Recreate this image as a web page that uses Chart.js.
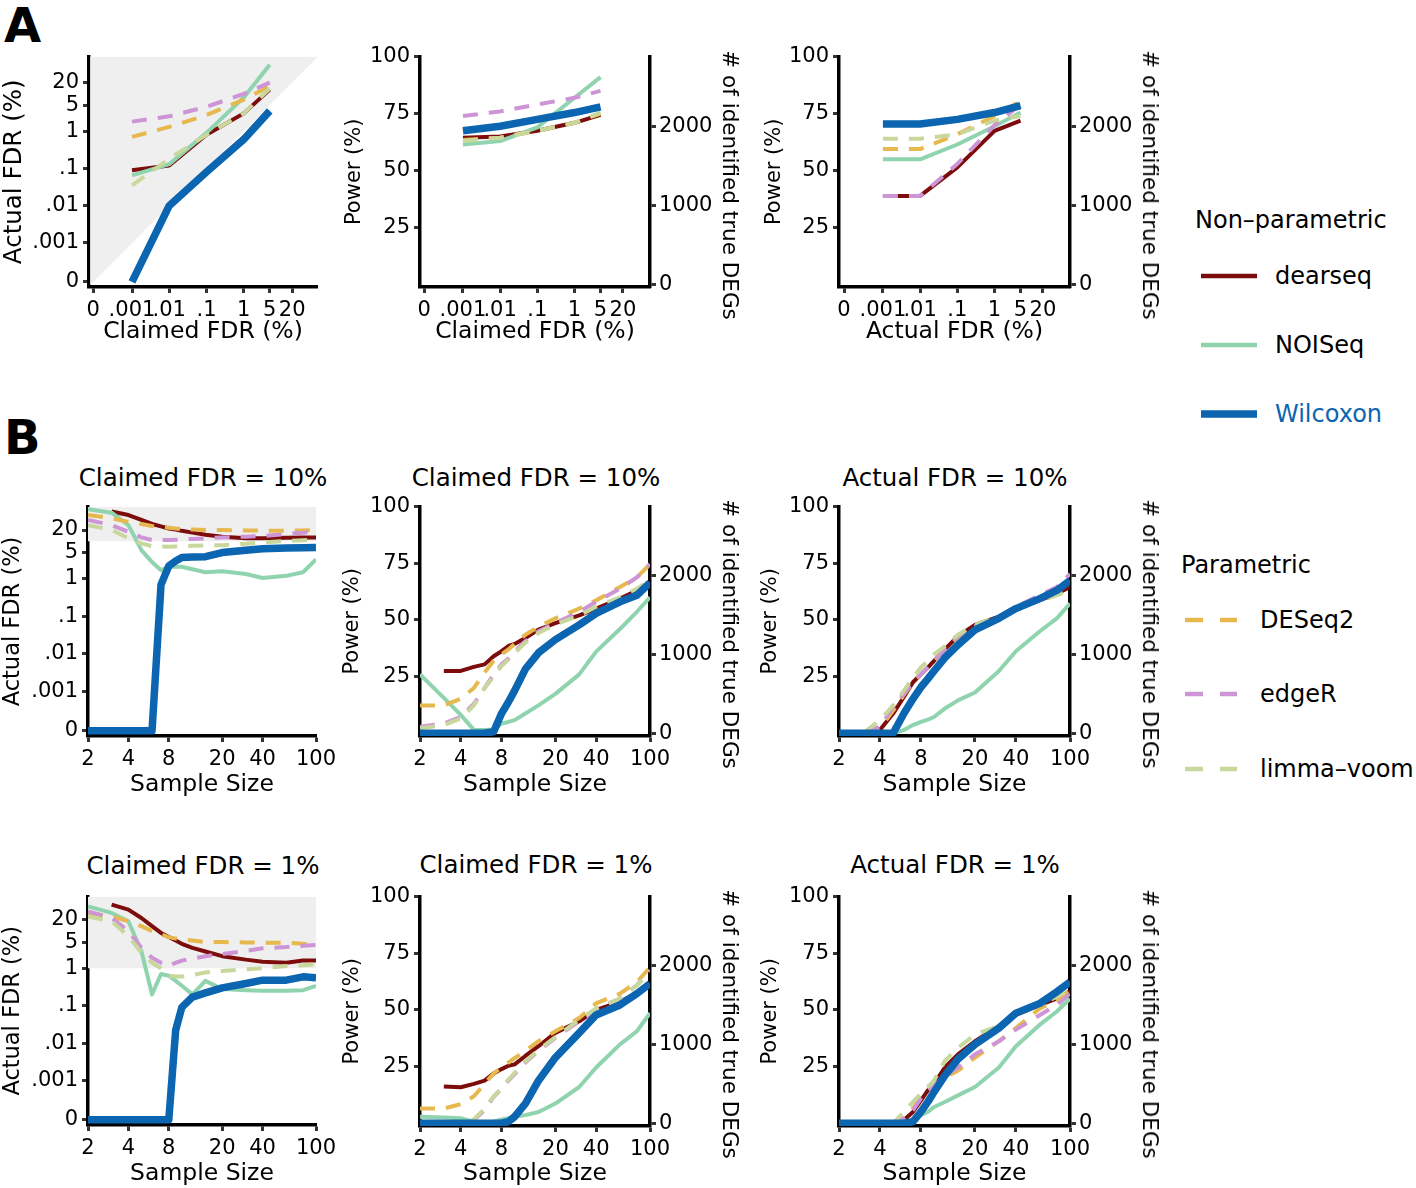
<!DOCTYPE html>
<html>
<head>
<meta charset="utf-8">
<script src="https://cdn.jsdelivr.net/npm/chart.js@4.4.1/dist/chart.umd.min.js"></script>
<style>
  body { margin:0; background:#fff; width:1416px; height:1188px; position:relative; overflow:hidden; font-family:'DejaVu Sans', sans-serif; }
  canvas { position:absolute; }
  .txt { position:absolute; white-space:nowrap; color:#000; line-height:30px; height:30px; }
  .ptitle { font-size:24.5px; text-align:center; width:400px; }
  .leg { font-size:24px; }
  .tag { position:absolute; font-weight:bold; font-size:48px; line-height:56px; }
  .rtitle { position:absolute; white-space:nowrap; font-size:21.5px; line-height:26px; transform:translate(-50%, -50%) rotate(90deg); }
  svg { position:absolute; left:0; top:0; }
</style>
</head>
<body>
<div class="tag" style="left:4px; top:-3px;">A</div>
<div class="tag" style="left:4px; top:409px;">B</div>

<div class="txt ptitle" style="left:3px; top:463px;">Claimed FDR = 10%</div>
<div class="txt ptitle" style="left:336px; top:463px;">Claimed FDR = 10%</div>
<div class="txt ptitle" style="left:755px; top:463px;">Actual FDR = 10%</div>
<div class="txt ptitle" style="left:3px; top:851px;">Claimed FDR = 1%</div>
<div class="txt ptitle" style="left:336px; top:850px;">Claimed FDR = 1%</div>
<div class="txt ptitle" style="left:755px; top:850px;">Actual FDR = 1%</div>

<div class="txt leg" style="left:1195px; top:205px;">Non–parametric</div>
<div class="txt leg" style="left:1275px; top:261px;">dearseq</div>
<div class="txt leg" style="left:1275px; top:330px;">NOISeq</div>
<div class="txt leg" style="left:1275px; top:399px; color:#0b65b0;">Wilcoxon</div>
<div class="txt leg" style="left:1181px; top:550px;">Parametric</div>
<div class="txt leg" style="left:1260px; top:605px;">DESeq2</div>
<div class="txt leg" style="left:1260px; top:679px;">edgeR</div>
<div class="txt leg" style="left:1260px; top:754px;">limma–voom</div>

<svg width="1416" height="1188">
  <line x1="1201" y1="276" x2="1257" y2="276" stroke="#7d0c0c" stroke-width="4.5"/>
  <line x1="1201" y1="345" x2="1257" y2="345" stroke="#8fd4ae" stroke-width="4.5"/>
  <line x1="1201" y1="414" x2="1257" y2="414" stroke="#0b65b0" stroke-width="7.5"/>
  <line x1="1185" y1="620" x2="1237" y2="620" stroke="#e6b84e" stroke-width="4.5" stroke-dasharray="18 17"/>
  <line x1="1185" y1="694" x2="1237" y2="694" stroke="#cd94d6" stroke-width="4.5" stroke-dasharray="18 17"/>
  <line x1="1185" y1="769" x2="1237" y2="769" stroke="#c8d89c" stroke-width="4.5" stroke-dasharray="18 17"/>
</svg>

<script>
const FONT = 'DejaVu Sans';
const ZERO = 9e-5; // where the "0" tick sits on the log FDR axes

const fdrLevels = [0.001, 0.01, 0.1, 1, 5];
const sampleSizes = [2, 3, 4, 5, 6, 7, 8, 9, 10, 12, 15, 20, 30, 40, 60, 80, 100];
const fdrTicks = [0, 0.001, 0.01, 0.1, 1, 5, 20];
const sizeTicks = [2, 4, 8, 20, 40, 100];
const powerTicks = [25, 50, 75, 100];
const degTicks = [0, 1000, 2000];
const totalDegs = 2875; // 100% power on the right axis

// draw order, top-most first
const methods = ['Wilcoxon', 'limma-voom', 'edgeR', 'DESeq2', 'NOISeq', 'dearseq'];

// A: actual FDR (%) at claimed FDR levels
const a1ActualFdr = {
  dearseq:  [0.09, 0.12, 0.8, 3, 13],
  NOISeq:   [0.065, 0.13, 0.9, 8, 60],
  Wilcoxon: [0, 0.01, 0.08, 0.6, 3.5],
  DESeq2:   [0.7, 1.3, 2.7, 7, 16],
  edgeR:    [1.8, 2.5, 4.5, 10, 20],
  'limma-voom': [0.035, 0.18, 0.8, 3, 14]
};
// A: power (%) at claimed FDR levels
const a2Power = {
  dearseq:  [64.5, 65, 67.5, 71, 74.5],
  NOISeq:   [61.5, 63, 69, 82, 91],
  Wilcoxon: [67.5, 69.5, 72.5, 75.5, 78],
  DESeq2:   [63.5, 64.5, 67.5, 71, 75],
  edgeR:    [74, 76, 79, 82, 85],
  'limma-voom': [63, 64.5, 67.5, 71, 75.5]
};
// A: power (%) at actual FDR levels
const a3Power = {
  dearseq:  [39, 39, 51.5, 67.5, 72],
  NOISeq:   [55, 55, 61.5, 69.5, 75.5],
  Wilcoxon: [70.5, 70.5, 72.5, 75.5, 78.5],
  DESeq2:   [59.5, 59.5, 66, 74, 80.5],
  edgeR:    [39, 39, 53, 70, 79],
  'limma-voom': [64, 64, 66, 72, 74]
};

// B: by sample size, claimed FDR = 10%
const b1ActualFdr = {
  dearseq:  [null, 62, 50, 37, 29, 25, 22, 20.5, 19, 17, 15, 13.3, 12, 12, 12.5, 12.7, 12.7],
  NOISeq:   [71, 58, 27, 5.8, 2.8, 1.7, 2.1, 2.1, 2.1, 1.8, 1.5, 1.6, 1.35, 1.05, 1.2, 1.5, 3.3],
  Wilcoxon: [0, 0, 0, 0, 0, 0.7, 2.2, 3.0, 3.7, 3.8, 3.9, 5.0, 5.8, 6.3, 6.6, 6.7, 6.8],
  DESeq2:   [50, 41, 33, 29, 25.5, 24, 23, 22, 21, 20.5, 20, 20, 19.5, 19.2, 19.2, 19.5, 20],
  edgeR:    [37, 27, 18, 12.7, 10.8, 10.8, 10.8, 11, 11.2, 11.6, 12, 12.7, 13.3, 13.8, 15.6, 17, 18],
  'limma-voom': [27, 20, 12, 8.8, 7.4, 7.3, 7.2, 7.3, 7.4, 7.6, 7.8, 7.9, 8.6, 9.3, 10.2, 10.7, 11.2]
};
const b2Power = {
  dearseq:  [null, 27.5, 27.5, 29.3, 30.4, 34, 36.2, 38.5, 39.4, 42, 45.7, 48.6, 52, 55, 59.4, 63, 66.7],
  NOISeq:   [26, 15.6, 8.1, 1.5, 1.4, 1.7, 4.3, 5, 5.8, 8.7, 12.3, 17.4, 26, 36, 46, 53.6, 60],
  Wilcoxon: [0, 0, 0, 0, 0, 0.7, 8.7, 13.8, 18.8, 28.3, 35.5, 41.3, 47.8, 52.9, 58, 60.9, 66.4],
  DESeq2:   [12.3, 12.3, 15.2, 20, 26.8, 32, 34.8, 37, 39.4, 43.5, 47, 50.7, 55, 58.7, 64.5, 68.8, 74.6],
  edgeR:    [2.9, 4.3, 7.2, 13, 20, 26, 30.4, 33, 36, 40.6, 45, 48.6, 53.6, 58, 63.8, 68.8, 74.6],
  'limma-voom': [2.2, 3.6, 6.5, 12.3, 20, 25, 29.7, 32.5, 35.5, 39.9, 44.2, 48, 52, 55.8, 60, 63.8, 67.4]
};
// B: by sample size, actual FDR = 10%
const b3Power = {
  dearseq:  [0, 0, 1.4, 8.7, 16, 22.5, 26, 29, 31.9, 37, 42.8, 47.8, 51.4, 55, 58.7, 61.6, 64.5],
  NOISeq:   [0, 0, 0, 0, 1.4, 3.6, 5, 6, 7.2, 10.9, 14.5, 18, 27.5, 36.2, 45, 50.7, 57.2],
  Wilcoxon: [0, 0, 0, 0, 8.7, 15.2, 20.3, 24, 27.5, 33.3, 39, 45.6, 50.7, 55, 59.4, 63, 67.4],
  DESeq2:   [0, 0, 2.2, 10, 17, 22.5, 26, 29, 32, 37, 42.5, 47, 51, 55, 58.5, 61, 63],
  edgeR:    [0, 0, 2.9, 11.6, 17.4, 22.5, 26, 29, 32, 37, 43, 47.5, 51.5, 55.8, 60.9, 64.5, 70.3],
  'limma-voom': [0, 0, 5.8, 12.3, 18.8, 24.6, 29, 32, 34.8, 38.4, 43.5, 47.8, 51.5, 55, 58.5, 61, 63]
};
// B: by sample size, claimed FDR = 1%
const b4ActualFdr = {
  dearseq:  [null, 50, 36.9, 22, 13.3, 8.8, 6.8, 5.5, 4.5, 3.5, 2.8, 2.1, 1.7, 1.5, 1.4, 1.6, 1.6],
  NOISeq:   [45, 30, 18, 2.9, 0.2, 0.7, 0.63, 0.46, 0.34, 0.2, 0.46, 0.28, 0.26, 0.25, 0.25, 0.26, 0.34],
  Wilcoxon: [0, 0, 0, 0, 0, 0, 0, 0.022, 0.09, 0.17, 0.22, 0.3, 0.39, 0.48, 0.48, 0.59, 0.56],
  DESeq2:   [30, 24, 18, 13.3, 9.8, 8, 6.8, 6.2, 5.9, 5.5, 5, 5, 4.9, 4.8, 4.8, 4.5, 4.4],
  edgeR:    [33, 22, 9.8, 3.5, 1.9, 1.4, 1.15, 1.4, 1.6, 1.8, 2.1, 2.4, 2.9, 3.4, 3.7, 4, 4.2],
  'limma-voom': [24, 18, 7.2, 2.6, 1.4, 1.0, 0.63, 0.6, 0.6, 0.66, 0.77, 0.85, 0.93, 1.0, 1.15, 1.2, 1.28]
};
const b5Power = {
  dearseq:  [null, 16.2, 15.9, 17.4, 18.8, 22, 23.9, 25.4, 26, 29.7, 34, 39.9, 45, 50, 53.6, 57.5, 62],
  NOISeq:   [2.9, 2.6, 2.2, 0.7, 0.4, 0.7, 1.7, 2.2, 2.9, 3.6, 5, 8.7, 16, 24.6, 34.8, 40.6, 48.6],
  Wilcoxon: [0, 0, 0, 0, 0, 0, 0, 0.7, 2.9, 8.7, 18.8, 29, 39.9, 47.8, 52.2, 57.2, 61.6],
  DESeq2:   [6.5, 6.5, 8.4, 11.9, 17.4, 22, 24.6, 26.8, 28.7, 31.9, 36.2, 40.6, 46.4, 52.9, 57.2, 62.3, 68.8],
  edgeR:    [0, 0, 0.5, 1.4, 5.8, 11.6, 15.2, 18.8, 21.7, 26.8, 31.9, 37.7, 45, 50, 55, 60.9, 67.4],
  'limma-voom': [0, 0, 0.5, 1.7, 6.5, 11.9, 15.5, 19.3, 22.2, 27.2, 32.3, 38, 45.7, 50.7, 55, 60.9, 66.7]
};
// B: by sample size, actual FDR = 1%
const b6Power = {
  dearseq:  [0, 0, 0, 0, 1.4, 5, 10, 14.5, 17.4, 24.6, 30.4, 36.2, 42.8, 47.8, 52.2, 55, 58.3],
  NOISeq:   [0, 0, 0, 0, 0, 0.7, 3.6, 5, 7.2, 9.4, 12.3, 16, 24.6, 34, 43.5, 49.3, 55],
  Wilcoxon: [0, 0, 0, 0, 0, 0.7, 5, 9.4, 13.8, 21, 28.3, 34.8, 42, 48.6, 52.9, 58, 62.3],
  DESeq2:   [0, 0, 0, 0, 2.2, 6.5, 11.6, 14.5, 16.7, 20.3, 23.2, 29, 36.2, 42, 50.7, 54.3, 58.7],
  edgeR:    [0, 0, 0, 0, 2.2, 5.8, 10.9, 14.5, 16.7, 21, 24.6, 30.4, 36.2, 41.3, 47.8, 52.2, 57.2],
  'limma-voom': [0, 0, 0, 0, 5, 9.4, 13, 16, 18.8, 27.5, 33.3, 39.1, 43, 47.8, 52.2, 55.8, 59.4]
};

const styles = {
  dearseq:  { color:'#7d0c0c', width:4, dash:[] },
  NOISeq:   { color:'#8fd4ae', width:4, dash:[] },
  Wilcoxon: { color:'#0b65b0', width:7.5, dash:[] },
  DESeq2:   { color:'#e6b84e', width:4, dash:[15, 11] },
  edgeR:    { color:'#cd94d6', width:4, dash:[15, 11] },
  'limma-voom': { color:'#c8d89c', width:4, dash:[15, 11] }
};
const SHADE = '#efefef';

// box: canvas [x, y, w, h]; area: plot frame [left, top, right, bottom], page pixels
const panels = [
  { box:[0, 40, 345, 306], area:[89, 56, 317, 287], x:'fdr', y:'fdr', xRange:[7.5e-5, 93], yRange:[6.6e-5, 100],
    xTitle:'Claimed FDR (%)', yTitle:'Actual FDR (%)', yTitleSize:24.5, series:a1ActualFdr, diagonal:true },
  { box:[342, 40, 401, 306], area:[420, 55, 650, 287], x:'fdr', y:'power', xRange:[7.0e-5, 107], yRange:[-0.9, 100],
    xTitle:'Claimed FDR (%)', yTitle:'Power (%)', yTitleSize:21, series:a2Power },
  { box:[762, 40, 401, 306], area:[839, 55, 1070, 287], x:'fdr', y:'power', xRange:[6.6e-5, 107], yRange:[-0.9, 100],
    xTitle:'Actual FDR (%)', yTitle:'Power (%)', yTitleSize:21, series:a3Power },
  { box:[0, 490, 345, 309], area:[88, 507, 316, 736], x:'size', y:'fdr', xRange:[2, 100], yRange:[6.5e-5, 82],
    xTitle:'Sample Size', yTitle:'Actual FDR (%)', yTitleSize:22.5, series:b1ActualFdr, shadeFrom:10 },
  { box:[340, 490, 404, 309], area:[420, 503, 650, 736], x:'size', y:'power', xRange:[2, 100], yRange:[-1.2, 100],
    xTitle:'Sample Size', yTitle:'Power (%)', yTitleSize:21, series:b2Power },
  { box:[758, 490, 406, 309], area:[839, 503, 1070, 736], x:'size', y:'power', xRange:[2, 100], yRange:[-1.2, 100],
    xTitle:'Sample Size', yTitle:'Power (%)', yTitleSize:21, series:b3Power },
  { box:[0, 880, 345, 308], area:[88, 895, 316, 1125], x:'size', y:'fdr', xRange:[2, 100], yRange:[6.5e-5, 82],
    xTitle:'Sample Size', yTitle:'Actual FDR (%)', yTitleSize:22.5, series:b4ActualFdr, shadeFrom:1 },
  { box:[340, 880, 404, 308], area:[420, 893, 650, 1126], x:'size', y:'power', xRange:[2, 100], yRange:[-1.2, 100],
    xTitle:'Sample Size', yTitle:'Power (%)', yTitleSize:21, series:b5Power },
  { box:[758, 880, 406, 308], area:[839, 893, 1070, 1126], x:'size', y:'power', xRange:[2, 100], yRange:[-1.2, 100],
    xTitle:'Sample Size', yTitle:'Power (%)', yTitleSize:21, series:b6Power }
];

function fmtFdr(v){
  if(v === ZERO) return '0';
  return v < 1 ? String(v).replace(/^0/, '') : String(v);
}

function axis(title, titleSize, extra){
  return Object.assign({
    border: { display:true, color:'#000', width:3.5 },
    grid: { display:true, drawOnChartArea:false, drawTicks:true, tickLength:6, tickWidth:3, tickColor:'#333' },
    ticks: { color:'#000', font:{ family:FONT, size:21 }, padding:4, autoSkip:false, maxRotation:0, minRotation:0 },
    title: { display:!!title, text:title, color:'#000', font:{ family:FONT, size:titleSize }, padding:0 }
  }, extra);
}

function buildDatasets(p){
  const xs = p.x === 'fdr' ? fdrLevels : sampleSizes;
  const sets = methods.map(m => {
    const st = styles[m];
    return {
      label: m,
      data: xs.map((x, i) => {
        let y = p.series[m][i];
        if(y === null) return { x, y:null };
        if(p.y === 'fdr' && y === 0) y = ZERO;
        return { x, y };
      }),
      borderColor: st.color,
      borderWidth: st.width,
      borderDash: st.dash,
      borderCapStyle: 'butt',
      borderJoinStyle: 'round',
      pointRadius: 0,
      tension: 0,
      fill: false
    };
  });
  if(p.diagonal){
    // region where actual FDR exceeds the claimed one
    const lo = p.xRange[0], hi = p.xRange[1];
    sets.push({ data:[{x:lo, y:lo}, {x:hi, y:hi}], borderWidth:0, pointRadius:0, fill:'end', backgroundColor:SHADE });
  }
  if(p.shadeFrom){
    sets.push({ data:[{x:p.xRange[0], y:p.shadeFrom}, {x:p.xRange[1], y:p.shadeFrom}], borderWidth:0, pointRadius:0, fill:'end', backgroundColor:SHADE });
  }
  return sets;
}

panels.forEach(p => {
  const [bx, by, bw, bh] = p.box;
  const [al, at, ar, ab] = p.area;
  const cv = document.createElement('canvas');
  cv.width = bw; cv.height = bh;
  cv.style.left = bx + 'px'; cv.style.top = by + 'px';
  cv.style.width = bw + 'px'; cv.style.height = bh + 'px';
  document.body.appendChild(cv);

  const hasRight = p.y === 'power';
  const leftW = al - bx, rightW = bx + bw - ar, bottomH = by + bh - ab;

  const scales = {};
  scales.x = axis(p.xTitle, 23.5, {
    type:'logarithmic', position:'bottom', min:p.xRange[0], max:p.xRange[1],
    afterBuildTicks: s => { s.ticks = (p.x === 'fdr' ? fdrTicks : sizeTicks).map(v => ({ value: v === 0 ? ZERO : v })); },
    afterFit: s => { s.height = bottomH; }
  });
  scales.x.ticks.padding = 5;
  scales.x.ticks.callback = p.x === 'fdr' ? (v => fmtFdr(v)) : (v => String(v));

  if(p.y === 'fdr'){
    scales.y = axis(p.yTitle, p.yTitleSize, {
      type:'logarithmic', position:'left', min:p.yRange[0], max:p.yRange[1],
      afterBuildTicks: s => { s.ticks = fdrTicks.map(v => ({ value: v === 0 ? ZERO : v })); },
      afterFit: s => { s.width = leftW; }
    });
    scales.y.ticks.callback = v => fmtFdr(v);
  } else {
    scales.y = axis(p.yTitle, p.yTitleSize, {
      type:'linear', position:'left', min:p.yRange[0], max:p.yRange[1],
      afterBuildTicks: s => { s.ticks = powerTicks.map(v => ({ value:v })); },
      afterFit: s => { s.width = leftW; }
    });
    scales.y.ticks.callback = v => String(v);
    scales.y2 = axis('', 21.5, {
      type:'linear', position:'right', min:p.yRange[0] * totalDegs / 100, max:totalDegs,
      afterBuildTicks: s => { s.ticks = degTicks.map(v => ({ value:v })); },
      afterFit: s => { s.width = rightW; }
    });
    scales.y2.ticks.callback = v => String(v);
    scales.y2.ticks.padding = 3;

    // right axis title, set a little below the frame's middle as in the figure
    const rt = document.createElement('div');
    rt.className = 'rtitle';
    rt.textContent = '# of identified true DEGs';
    rt.style.left = (ar + 80) + 'px';
    rt.style.top = ((at + ab) / 2 + 14) + 'px';
    document.body.appendChild(rt);
  }

  new Chart(cv.getContext('2d'), {
    type:'line',
    data:{ datasets: buildDatasets(p) },
    options:{
      responsive:false,
      animation:false,
      devicePixelRatio:1,
      layout:{ padding:{ top: at - by, right: hasRight ? 0 : rightW, bottom:0, left:0 } },
      plugins:{ legend:{ display:false }, tooltip:{ enabled:false } },
      scales
    }
  });
});
</script>
</body>
</html>
